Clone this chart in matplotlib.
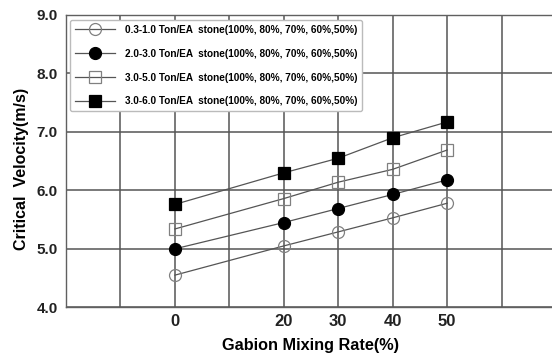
import numpy as np
import matplotlib
matplotlib.use("Agg")
import matplotlib.pyplot as plt

plt.rcParams["font.family"] = ["Liberation Sans", "DejaVu Sans"]
plt.rcParams["font.weight"] = "bold"

# data
mixing_rate = [0, 20, 30, 40, 50]
tick_labels = ["0", "20", "30", "40", "50"]

v_03_10 = [4.55, 5.05, 5.29, 5.53, 5.78]
v_20_30 = [5.00, 5.45, 5.69, 5.93, 6.18]
v_30_50 = [5.34, 5.86, 6.14, 6.36, 6.69]
v_30_60 = [5.76, 6.30, 6.55, 6.90, 7.17]

label_tail = "Ton/EA  stone(100%, 80%, 70%, 60%,50%)"
series = [
    ("0.3-1.0 " + label_tail, v_03_10, "o", "none", "#808080", 8.6),
    ("2.0-3.0 " + label_tail, v_20_30, "o", "black", "black", 8.6),
    ("3.0-5.0 " + label_tail, v_30_50, "s", "none", "#808080", 9.2),
    ("3.0-6.0 " + label_tail, v_30_60, "s", "black", "black", 9.2),
]

fig = plt.figure(figsize=(5.52, 3.56), dpi=100)
ax = fig.add_axes([66 / 552, 48.7 / 356, 490 / 552, 292.3 / 356])

for label, values, marker, face, edge, size in series:
    ax.plot(
        mixing_rate,
        values,
        color="#555555",
        linewidth=0.9,
        marker=marker,
        markersize=size,
        markerfacecolor=face,
        markeredgecolor=edge,
        markeredgewidth=0.9,
        label=label,
        zorder=3,
    )

ax.set_xlim(-20, 70)
ax.set_ylim(4.0, 9.0)
ax.set_xticks(np.arange(-10, 70, 10), minor=True)
ax.set_xticks(mixing_rate)
ax.set_xticklabels(tick_labels, fontsize=12)
ax.set_yticks([4, 5, 6, 7, 8, 9])
ax.set_yticklabels(["4.0", "5.0", "6.0", "7.0", "8.0", "9.0"], fontsize=11)
ax.tick_params(axis="both", which="both", length=0, colors="#222222")
ax.tick_params(axis="x", pad=5)
ax.tick_params(axis="y", pad=6)

ax.grid(True, which="both", axis="x", color="#555555", linewidth=1.1)
ax.grid(True, which="major", axis="y", color="#555555", linewidth=1.1)
ax.set_axisbelow(True)
for spine in ax.spines.values():
    spine.set_color("#606060")
    spine.set_linewidth(1.0)

ax.set_xlabel("Gabion Mixing Rate(%)", fontsize=11.7, fontweight="bold", labelpad=6)
ax.set_ylabel("Critical  Velocity(m/s)", fontsize=11.5, fontweight="bold")
ax.yaxis.set_label_coords(-0.076, 0.475)

leg = ax.legend(
    loc="upper left",
    bbox_to_anchor=(0.008, 0.983),
    prop={"weight": "bold", "size": 7.2},
    handlelength=4.0,
    handletextpad=1.0,
    labelspacing=1.38,
    borderpad=0.5,
    borderaxespad=0,
    fancybox=True,
    framealpha=1.0,
    edgecolor="#bbbbbb",
)
leg.get_frame().set_linewidth(1.0)

fig.savefig("out.png", dpi=100)
